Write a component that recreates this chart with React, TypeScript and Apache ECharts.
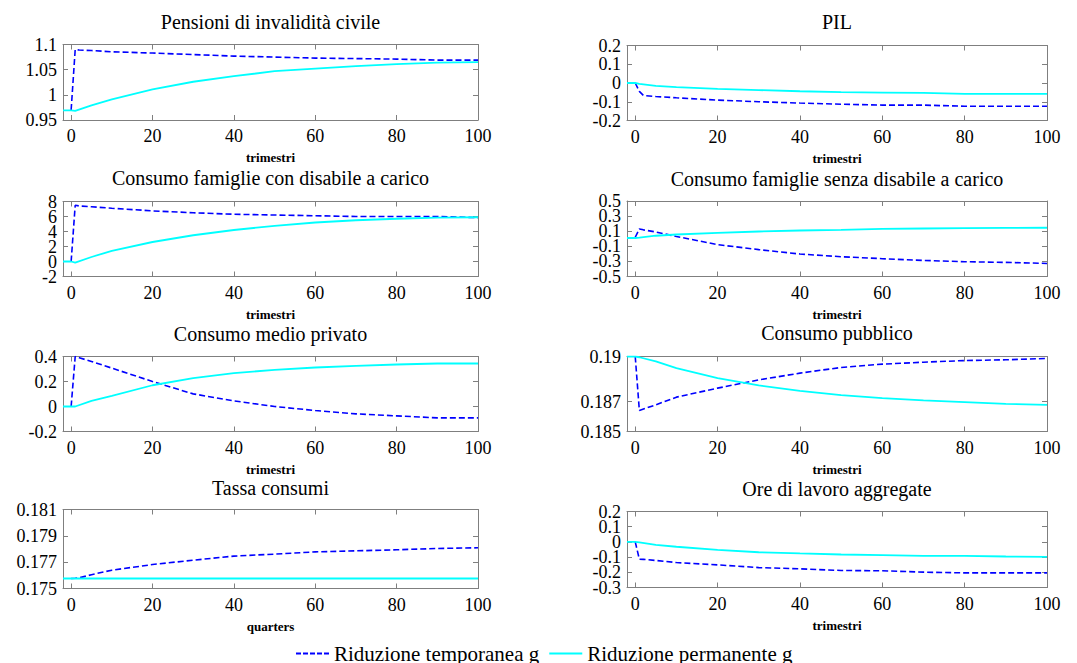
import React, { useEffect, useRef } from "react";
import * as echarts from "echarts";

// ---- Data ----
const X_TEMP = [0, 1, 2, 5, 10, 20, 30, 40, 50, 60, 70, 80, 90, 100];
const X_PERM = [-2, 0, 1, 5, 10, 20, 30, 40, 50, 60, 70, 80, 90, 100];
const X_TICKS = [0, 20, 40, 60, 80, 100];

const TITLES = [
  "Pensioni di invalidità civile",
  "PIL",
  "Consumo famiglie con disabile a carico",
  "Consumo famiglie senza disabile a carico",
  "Consumo medio privato",
  "Consumo pubblico",
  "Tassa consumi",
  "Ore di lavoro aggregate",
];
const X_NAMES = ["trimestri", "trimestri", "trimestri", "trimestri", "trimestri", "trimestri", "quarters", "trimestri"];

const pensioniTemp = [0.970, 1.090, 1.089, 1.088, 1.0855, 1.083, 1.080, 1.077, 1.075, 1.073, 1.072, 1.071, 1.069, 1.069];
const pensioniPerm = [0.969, 0.969, 0.968, 0.979, 0.991, 1.011, 1.026, 1.037, 1.047, 1.052, 1.057, 1.061, 1.064, 1.065];

const pilTemp = [0, -0.045, -0.067, -0.072, -0.079, -0.091, -0.100, -0.107, -0.113, -0.118, -0.118, -0.124, -0.124, -0.124];
const pilPerm = [0, 0, -0.005, -0.015, -0.022, -0.031, -0.038, -0.044, -0.049, -0.051, -0.053, -0.058, -0.058, -0.058];

const conDisTemp = [0, 7.5, 7.4, 7.3, 7.1, 6.75, 6.5, 6.3, 6.2, 6.1, 6.0, 6.0, 6.0, 5.85];
const conDisPerm = [0, 0, -0.15, 0.6, 1.42, 2.6, 3.5, 4.2, 4.75, 5.2, 5.5, 5.7, 5.85, 5.9];

const senzaDisTemp = [0.02, 0.13, 0.118, 0.09, 0.03, -0.078, -0.144, -0.202, -0.238, -0.264, -0.287, -0.304, -0.313, -0.327];
const senzaDisPerm = [0.01, 0.01, 0.015, 0.04, 0.056, 0.078, 0.096, 0.109, 0.118, 0.131, 0.136, 0.14, 0.144, 0.146];

const medioTemp = [0, 0.4, 0.39, 0.36, 0.307, 0.2, 0.101, 0.045, 0.0, -0.032, -0.059, -0.075, -0.091, -0.091];
const medioPerm = [0, 0, 0, 0.045, 0.085, 0.17, 0.227, 0.267, 0.293, 0.312, 0.325, 0.336, 0.344, 0.344];

const pubblicoTemp = [0.19, 0.1864, 0.1865, 0.18678, 0.18729, 0.18789, 0.18844, 0.18889, 0.18927, 0.18949, 0.18962, 0.18973, 0.18978, 0.18987];
const pubblicoPerm = [0.19, 0.19, 0.18995, 0.18967, 0.18922, 0.18856, 0.18807, 0.18771, 0.18742, 0.18722, 0.18707, 0.18696, 0.18684, 0.18678];

const tassaTemp = [0.17576, 0.17578, 0.17581, 0.17605, 0.17639, 0.17682, 0.17715, 0.17746, 0.17761, 0.17778, 0.17786, 0.17794, 0.17804, 0.17809];
const tassaPerm = [0.17576, 0.17576, 0.17576, 0.17576, 0.17576, 0.17576, 0.17576, 0.17576, 0.17576, 0.17576, 0.17576, 0.17576, 0.17576, 0.17576];

const oreTemp = [0, -0.114, -0.115, -0.122, -0.136, -0.151, -0.169, -0.177, -0.188, -0.19, -0.199, -0.204, -0.204, -0.204];
const orePerm = [0, 0, -0.003, -0.019, -0.032, -0.052, -0.068, -0.076, -0.083, -0.087, -0.092, -0.092, -0.096, -0.098];

const Y_MIN = [0.95, -0.2, -2, -0.5, -0.2, 0.185, 0.175, -0.3];
const Y_MAX = [1.1, 0.2, 8, 0.5, 0.4, 0.19, 0.181, 0.2];
const Y_TICKS = [
  [0.95, 1, 1.05, 1.1],
  [-0.2, -0.1, 0, 0.1, 0.2],
  [-2, 0, 2, 4, 6, 8],
  [-0.5, -0.3, -0.1, 0.1, 0.3, 0.5],
  [-0.2, 0, 0.2, 0.4],
  [0.185, 0.187, 0.19],
  [0.175, 0.177, 0.179, 0.181],
  [-0.3, -0.2, -0.1, 0, 0.1, 0.2],
];

const TEMP_SERIES = [pensioniTemp, pilTemp, conDisTemp, senzaDisTemp, medioTemp, pubblicoTemp, tassaTemp, oreTemp];
const PERM_SERIES = [pensioniPerm, pilPerm, conDisPerm, senzaDisPerm, medioPerm, pubblicoPerm, tassaPerm, orePerm];

const NAME_TEMP = "Riduzione temporanea g";
const NAME_PERM = "Riduzione permanente g";

// ---- Layout ----
const GRIDS = [
  { left: 63, top: 44.5, width: 415, height: 75.5 },
  { left: 627, top: 45.5, width: 420, height: 75 },
  { left: 63, top: 201.5, width: 415, height: 75 },
  { left: 627, top: 201, width: 420, height: 75.5 },
  { left: 63, top: 356.5, width: 415, height: 75 },
  { left: 627, top: 356.5, width: 420, height: 75 },
  { left: 63, top: 509.5, width: 415, height: 79 },
  { left: 627, top: 511.5, width: 420, height: 76 },
];
const TITLE_Y = [22, 22, 178, 179, 334, 333, 488, 489];

const FONT = "Liberation Serif";
const BOX = "#7f7f7f";
const DASH_ICON = "path://M0,0h5v2h-5z M7,0h5v2h-5z M14,0h5v2h-5z M21,0h5v2h-5z M28,0h5v2h-5z";
const LINE_ICON = "path://M0,0h33v2h-33z";

export default function App() {
  const ref = useRef<HTMLDivElement>(null);
  useEffect(() => {
    if (!ref.current) return;
    const chart = echarts.init(ref.current, null, { renderer: "svg" });
    const xAxis: any[] = [];
    const yAxis: any[] = [];
    const series: any[] = [];
    const graphic: any[] = [];
    const labelStyle = {
      color: "#000",
      fontFamily: FONT,
      fontSize: 18,
    };
    GRIDS.forEach((g, i) => {
      const baseX = {
        gridIndex: i,
        type: "value",
        min: -2,
        max: 100,
        axisLine: { show: true, onZero: false, lineStyle: { color: BOX, width: 1 } },
        axisTick: { show: true, inside: true, length: 5, customValues: X_TICKS, lineStyle: { color: BOX } },
        splitLine: { show: false },
      };
      const xIdx = xAxis.length;
      xAxis.push({
        ...baseX,
        position: "bottom",
        axisLabel: { show: true, customValues: X_TICKS, margin: 7, ...labelStyle },
        name: X_NAMES[i],
        nameLocation: "middle",
        nameGap: 31,
        nameTextStyle: { fontFamily: FONT, fontSize: 13, fontWeight: "bold", color: "#000" },
      });
      xAxis.push({ ...baseX, position: "top", axisLabel: { show: false } });

      const ticks = Y_TICKS[i];
      const evenTicks = ticks.filter((_, k) => k % 2 === 0);
      const oddTicks = ticks.filter((_, k) => k % 2 === 1);
      const baseY = {
        gridIndex: i,
        type: "value",
        min: Y_MIN[i],
        max: Y_MAX[i],
        axisLine: { show: true, onZero: false, lineStyle: { color: BOX, width: 1 } },
        axisTick: { show: true, inside: true, length: 5, customValues: ticks, lineStyle: { color: BOX } },
        splitLine: { show: false },
      };
      const fmt = (v: number) => String(Number(v.toPrecision(6)));
      const yIdx = yAxis.length;
      yAxis.push({
        ...baseY,
        position: "left",
        axisLabel: {
          show: true,
          customValues: evenTicks,
          showMinLabel: true,
          showMaxLabel: true,
          hideOverlap: false,
          margin: 6,
          ...labelStyle,
          formatter: fmt,
        },
      });
      yAxis.push({ ...baseY, position: "right", axisLabel: { show: false } });
      yAxis.push({
        ...baseY,
        position: "left",
        offset: 0,
        axisLine: { show: false },
        axisTick: { show: false },
        axisLabel: {
          show: true,
          customValues: oddTicks,
          showMinLabel: true,
          showMaxLabel: true,
          hideOverlap: false,
          margin: 6,
          ...labelStyle,
          formatter: fmt,
        },
      });
      series.push({
        name: NAME_TEMP,
        type: "line",
        xAxisIndex: xIdx,
        yAxisIndex: yIdx,
        symbol: "none",
        showSymbol: false,
        data: X_TEMP.map((x, k) => [x, TEMP_SERIES[i][k]]),
        lineStyle: { color: "#0000ff", width: 1.6, type: [6, 3] },
        itemStyle: { color: "#0000ff" },
      });
      series.push({
        name: NAME_PERM,
        type: "line",
        xAxisIndex: xIdx,
        yAxisIndex: yIdx,
        symbol: "none",
        showSymbol: false,
        data: X_PERM.map((x, k) => [x, PERM_SERIES[i][k]]),
        lineStyle: { color: "#00ffff", width: 1.8 },
        itemStyle: { color: "#00ffff" },
      });
      graphic.push({
        type: "text",
        x: g.left + g.width / 2,
        y: TITLE_Y[i],
        style: {
          text: TITLES[i],
          textAlign: "center",
          textVerticalAlign: "middle",
          fontFamily: FONT,
          fontSize: 20,
          fill: "#000",
        },
      });
    });
    chart.setOption({
      animation: false,
      backgroundColor: "#fff",
      grid: GRIDS.map((g) => ({ ...g, containLabel: false })),
      xAxis,
      yAxis,
      series,
      graphic,
      legend: {
        data: [
          { name: NAME_TEMP, icon: DASH_ICON, itemStyle: { color: "#0000ff" } },
          { name: NAME_PERM, icon: LINE_ICON, itemStyle: { color: "#00ffff" } },
        ],
        left: 296,
        top: 643,
        itemWidth: 33,
        itemHeight: 2,
        itemGap: 10,
        padding: 0,
        textStyle: { fontFamily: FONT, fontSize: 21, color: "#000", padding: [0, 0, 0, 0] },
      },
    });
    return () => chart.dispose();
  }, []);
  return (
    <div
      ref={ref}
      style={{ position: "fixed", left: 0, top: 0, width: 1077, height: 663, background: "#fff" }}
    />
  );
}
